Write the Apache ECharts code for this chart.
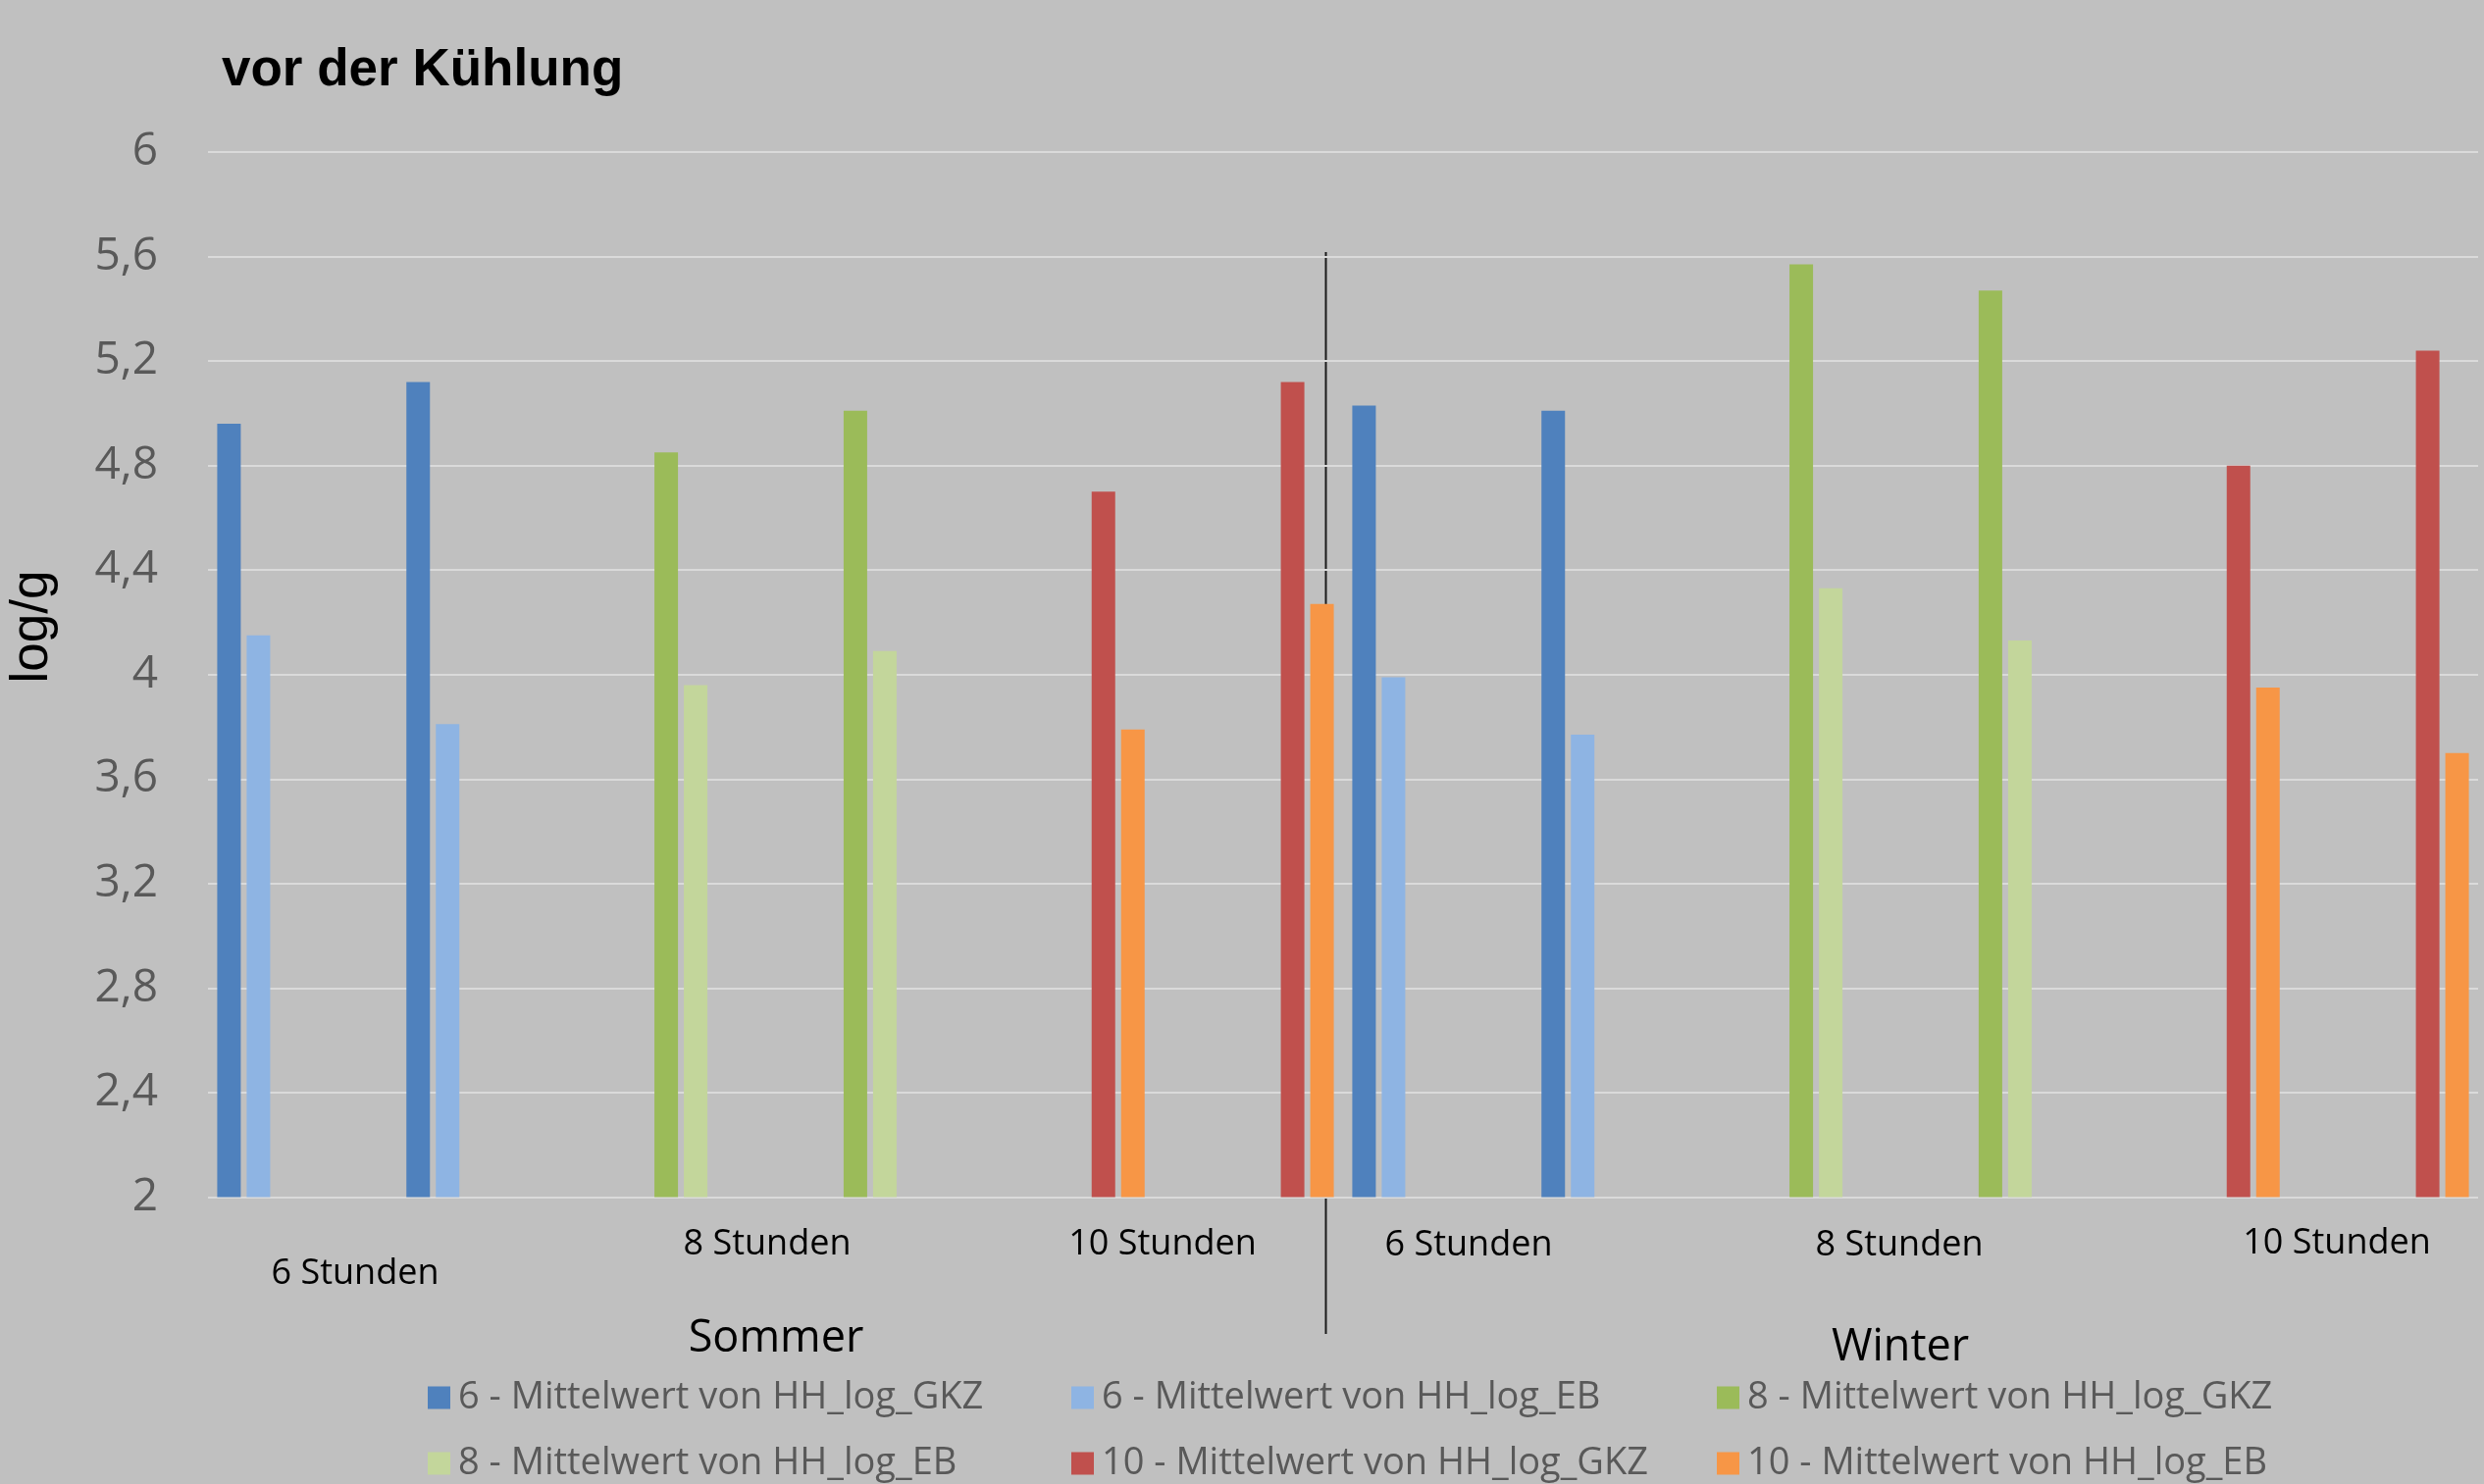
<!DOCTYPE html>
<html>
<head>
<meta charset="utf-8">
<title>vor der Kühlung</title>
<script src="https://cdn.jsdelivr.net/npm/echarts@6/dist/echarts.min.js"></script>
<style>
  html, body { margin: 0; padding: 0; background: #c0c0c0; }
  #chart { width: 2532px; height: 1513px; }
</style>
</head>
<body>
<div id="chart"></div>
<script>
// 12 Kategorien: je Stundengruppe zwei Proben, Sommer dann Winter
const categories = ['S6-1', 'S6-2', 'S8-1', 'S8-2', 'S10-1', 'S10-2',
                    'W6-1', 'W6-2', 'W8-1', 'W8-2', 'W10-1', 'W10-2'];
const stundenLabels = ['6 Stunden', '8 Stunden', '10 Stunden', '6 Stunden', '8 Stunden', '10 Stunden'];
const seasonLabels = ['Sommer', 'Winter'];
const seriesNames = [
  '6 - Mittelwert von HH_log_GKZ', '6 - Mittelwert von HH_log_EB',
  '8 - Mittelwert von HH_log_GKZ', '8 - Mittelwert von HH_log_EB',
  '10 - Mittelwert von HH_log_GKZ', '10 - Mittelwert von HH_log_EB'
];

// Werte (log/g)
const gkz6  = [4.96, 5.12, null, null, null, null, 5.03, 5.01, null, null, null, null];
const eb6   = [4.15, 3.81, null, null, null, null, 3.99, 3.77, null, null, null, null];
const gkz8  = [null, null, 4.85, 5.01, null, null, null, null, 5.57, 5.47, null, null];
const eb8   = [null, null, 3.96, 4.09, null, null, null, null, 4.33, 4.13, null, null];
const gkz10 = [null, null, null, null, 4.70, 5.12, null, null, null, null, 4.80, 5.24];
const eb10  = [null, null, null, null, 3.79, 4.27, null, null, null, null, 3.95, 3.70];

const colors = ['#4f81bd', '#8eb4e3', '#9bbb59', '#c3d69b', '#c0504d', '#f79646'];

const chart = echarts.init(document.getElementById('chart'));

const seriesData = [gkz6, eb6, gkz8, eb8, gkz10, eb10];
const series = seriesData.map((d, i) => ({
  name: seriesNames[i],
  type: 'bar',
  data: d,
  barWidth: 24,
  barGap: '25%',
  itemStyle: { color: colors[i] }
}));

const labelFont = "'Open Sans', sans-serif";

// Legende: 3 Spalten x 2 Zeilen, jeder Eintrag einzeln platziert
const legendCols = [436, 1092, 1750];
const legendRows = [1403, 1470];

function legendItem(name, i) {
  return {
    data: [name],
    left: legendCols[i % 3],
    top: legendRows[Math.floor(i / 3)],
    padding: 0,
    itemWidth: 23,
    itemHeight: 23,
    icon: 'rect',
    textStyle: {
      fontFamily: labelFont,
      fontSize: 38,
      lineHeight: 44,
      color: '#595959',
      padding: [0, 0, 0, 3]
    }
  };
}

// Beschriftungen unter der Achse (frei platziert wie im Original)
const stundenPos = [[362, 1299], [782, 1269], [1185, 1269], [1497, 1270], [1936, 1270], [2382, 1268]];
const seasonPos = [[791, 1365], [1937, 1374]];

const graphics = [
  {
    type: 'text', left: 226, top: 46,
    style: { text: 'vor der Kühlung', font: "bold 53px 'Liberation Sans', Arial, sans-serif", fill: '#000' }
  },
  {
    type: 'text', x: 33, y: 639, rotation: Math.PI / 2,
    style: { text: 'log/g', font: "53px 'Liberation Sans', Arial, sans-serif", fill: '#000',
             align: 'center', verticalAlign: 'middle' }
  },
  {
    type: 'line',
    shape: { x1: 1351.5, y1: 257, x2: 1351.5, y2: 1360 },
    style: { stroke: '#1a1a1a', lineWidth: 2 }
  }
];
stundenLabels.forEach((t, i) => {
  graphics.push({
    type: 'text', x: stundenPos[i][0], y: stundenPos[i][1],
    style: { text: t, font: "36px 'Open Sans', sans-serif", fill: '#000', align: 'center', verticalAlign: 'middle' }
  });
});
seasonLabels.forEach((t, i) => {
  graphics.push({
    type: 'text', x: seasonPos[i][0], y: seasonPos[i][1],
    style: { text: t, font: "45px 'Open Sans', sans-serif", fill: '#000', align: 'center', verticalAlign: 'middle' }
  });
});

const option = {
  backgroundColor: '#c0c0c0',
  animation: false,
  grid: { left: 212, right: 6, top: 155, bottom: 292.5 },
  legend: seriesNames.map(legendItem),
  xAxis: {
    type: 'category',
    data: categories,
    axisLine: { show: false },
    axisTick: { show: false },
    axisLabel: { show: false }
  },
  yAxis: {
    type: 'value',
    min: 2,
    max: 6,
    interval: 0.4,
    axisLine: { show: false },
    axisTick: { show: false },
    splitLine: { lineStyle: { color: '#dadada', width: 2 } },
    axisLabel: {
      margin: 51,
      fontFamily: labelFont,
      fontSize: 46,
      color: '#595959',
      formatter: v => String(Math.round(v * 10) / 10).replace('.', ',')
    }
  },
  series: series,
  graphic: graphics
};

chart.setOption(option);
</script>
</body>
</html>
